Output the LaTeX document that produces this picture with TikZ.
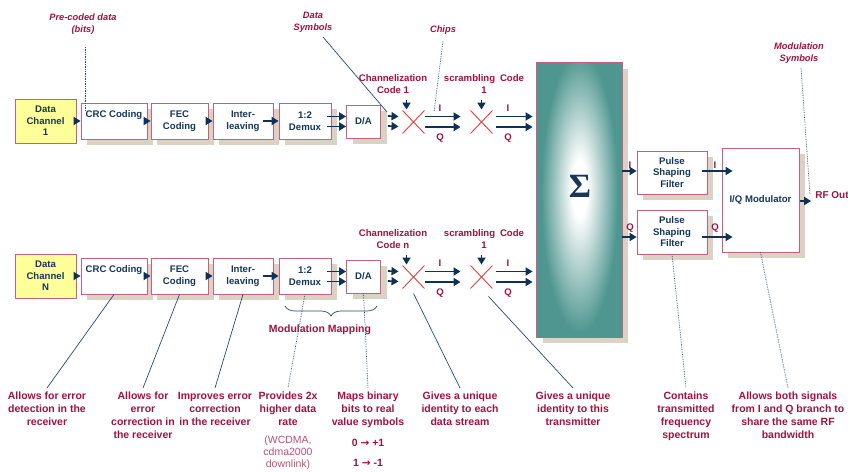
\documentclass[tikz,border=0pt]{standalone}
\usepackage{fontspec}
\setmainfont{Liberation Sans}
\newfontfamily\djv{DejaVu Sans}
\newfontfamily\sigfont{Liberation Serif}
\usetikzlibrary{arrows.meta,shapes.misc,shadows,decorations.pathreplacing}
\definecolor{redtxt}{RGB}{163,18,63}
\definecolor{navy}{RGB}{22,55,90}
\definecolor{arrc}{RGB}{12,50,85}
\definecolor{boxbd}{RGB}{200,95,125}
\definecolor{shadc}{RGB}{218,210,197}
\definecolor{yel}{RGB}{255,255,153}
\definecolor{xred}{RGB}{232,64,60}
\definecolor{teal1}{RGB}{78,150,143}
\definecolor{pinktxt}{RGB}{190,80,120}
\definecolor{annc}{RGB}{40,75,110}
\pgfdeclareradialshading{sigshade}{\pgfpoint{0bp}{4bp}}{color(0bp)=(white); color(9bp)=(white); color(45bp)=(teal1); color(100bp)=(teal1)}
\tikzset{
  shd/.style={drop shadow={shadow xshift=6pt,shadow yshift=-6pt,fill=shadc,opacity=1,draw=none}},
  boxbase/.style={draw=boxbd, line width=0.8pt, text=navy, font=\bfseries\fontsize{9.6}{11.5}\selectfont, align=center, inner sep=0pt},
  blk/.style={boxbase, fill=white, shd},
  dcbox/.style={boxbase, fill=yel},
  sumbox/.style={draw=boxbd, line width=0.8pt, fill=teal1, shd, minimum width=85pt, minimum height=274pt, inner sep=0pt},
  xmark/.style={cross out, draw=xred, line width=0.9pt, minimum width=21pt, minimum height=22pt, inner sep=0pt},
  arr/.style={draw=arrc, line width=1.7pt, -{Triangle[length=7pt,width=8pt]}},
  rlab/.style={text=redtxt, font=\bfseries\fontsize{9.6}{12}\selectfont, align=center, inner sep=0pt},
  ann/.style={text=redtxt, font=\bfseries\itshape\fontsize{9.3}{11.5}\selectfont, align=center, inner sep=0pt},
  btxt/.style={text=redtxt, font=\bfseries\fontsize{10.5}{13}\selectfont, align=center, inner sep=0pt, anchor=north},
  aline/.style={draw=annc, line width=0.7pt},
  adot/.style={aline, densely dotted}
}
\begin{document}
\begin{tikzpicture}[x=1pt,y=-1pt]
\fill[white] (0,0) rectangle (848,472);
\useasboundingbox (0,0) rectangle (848,472);

% summing block
\node[sumbox] (sum) at (579.5,200) {};
\begin{scope}
  \clip (sum.south west) rectangle (sum.north east);
  \pgftransformshift{\pgfpointanchor{sum}{center}}
  \pgftransformxscale{0.85}
  \pgftransformyscale{3.1}
  \pgflowlevelsynccm
  \pgftext{\pgfuseshading{sigshade}}
\end{scope}
\draw[boxbd, line width=0.8pt] (sum.south west) rectangle (sum.north east);
\node[text=navy, inner sep=0pt] (sig) at (580,186) {\sigfont\bfseries\fontsize{34}{34}\selectfont Σ};

\foreach \r/\dy/\lab/\cn in {1/0/1/1,N/155/N/n}{
  \node[dcbox, minimum width=61pt, minimum height=44pt] (dc\r) at (45.5,121+\dy) {Data\\Channel\\\lab};
  \node[blk, minimum width=66pt, minimum height=36pt] (crc\r) at (114,121+\dy) {CRC Coding\\[1pt]\phantom{g}};
  \node[blk, minimum width=57pt, minimum height=36pt] (fec\r) at (179.5,121+\dy) {FEC\\Coding};
  \node[blk, minimum width=60pt, minimum height=36pt] (int\r) at (243,121+\dy) {Inter-\\leaving};
  \node[blk, minimum width=52pt, minimum height=36pt] (dmx\r) at (305,121+\dy) {1:2\\Demux};
  \node[blk, minimum width=34pt, minimum height=33pt] (da\r) at (363.5,121.5+\dy) {D/A};
  \node[xmark] (xa\r) at (413.5,122+\dy) {};
  \node[xmark] (xb\r) at (481.5,122+\dy) {};
  \node[rlab] (chl\r) at (393,84+\dy) {Channelization\\Code \cn};
  \node[rlab] (scl\r) at (484,84+\dy) {scrambling\enspace Code\\1};
  \node[rlab] (ia\r) at (440,108+\dy) {I};
  \node[rlab] (qa\r) at (440,138+\dy) {Q};
  \node[rlab] (ib\r) at (508,108+\dy) {I};
  \node[rlab] (qb\r) at (508,138+\dy) {Q};
  \draw[arr] (dc\r.east) -- (crc\r.west);
  \draw[arr] (crc\r.east) -- (fec\r.west);
  \draw[arr] (fec\r.east) -- (int\r.west);
  \draw[arr] ([xshift=-10pt]int\r.east) -- (dmx\r.west);
  \draw[arr] ([xshift=-4pt,yshift=4.5pt]dmx\r.east) -- ([yshift=5pt]da\r.west);
  \draw[arr] ([xshift=-4pt,yshift=-5.5pt]dmx\r.east) -- ([yshift=-5pt]da\r.west);
  \draw[arr] ([xshift=7pt,yshift=5.5pt]da\r.east) -- ([xshift=-4pt,yshift=5.5pt]xa\r.west);
  \draw[arr] ([xshift=7pt,yshift=-4.5pt]da\r.east) -- ([xshift=-4pt,yshift=-4.5pt]xa\r.west);
  \draw[arr] ([xshift=1pt,yshift=5.5pt]xa\r.east) -- ([xshift=-10pt,yshift=5.5pt]xb\r.west);
  \draw[arr] ([xshift=1pt,yshift=-5pt]xa\r.east) -- ([xshift=-10pt,yshift=-5pt]xb\r.west);
  \path (sum.west |- xb\r.east) coordinate (sw\r);
  \draw[arr] ([xshift=4pt,yshift=5.5pt]xb\r.east) -- ([xshift=-4pt,yshift=5.5pt]sw\r);
  \draw[arr] ([xshift=4pt,yshift=-5pt]xb\r.east) -- ([xshift=-4pt,yshift=-5pt]sw\r);
  \draw[arr] ([xshift=-7pt,yshift=11pt]xa\r.north) -- ([xshift=-7pt,yshift=1pt]xa\r.north);
  \draw[arr] ([yshift=11pt]xb\r.north) -- ([yshift=1pt]xb\r.north);
}

% pulse shaping and modulator
\node[blk, minimum width=70pt, minimum height=43pt] (psf1) at (672,172.5) {Pulse\\Shaping\\Filter};
\node[blk, minimum width=70pt, minimum height=44pt] (psf2) at (672,232) {Pulse\\Shaping\\Filter};
\node[blk, minimum width=77pt, minimum height=104pt] (iq) at (760.5,200) {I/Q Modulator};
\node[rlab] (si) at (630,165) {I};
\node[rlab] (sq) at (630,228) {Q};
\node[rlab] (pi) at (715,165) {I};
\node[rlab] (pq) at (715,228) {Q};
\node[rlab, font=\bfseries\fontsize{10}{12}\selectfont] (rf) at (832,195) {RF Out};
\path (sum.east |- psf1.west) coordinate (se1);
\path (sum.east |- psf2.west) coordinate (se2);
\draw[arr] ([yshift=1.5pt]se1) -- ([yshift=1.5pt]psf1.west);
\draw[arr] ([yshift=-5pt]se2) -- ([yshift=-5pt]psf2.west);
\path (iq.west |- psf1.east) coordinate (iw1);
\path (iq.west |- psf2.east) coordinate (iw2);
\draw[arr] ([xshift=-5pt,yshift=1.5pt]psf1.east) -- ([xshift=11pt,yshift=1.5pt]iw1);
\draw[arr] ([xshift=-5pt,yshift=-5pt]psf2.east) -- ([xshift=11pt,yshift=-5pt]iw2);
\path (rf.west |- iq.east) coordinate (rfw);
\draw[arr] ([xshift=1pt,yshift=-1pt]iq.east) -- ([xshift=-4pt,yshift=-1pt]rfw);

% top annotations
\node[ann] (pre) at (83,24) {Pre-coded data\\(bits)};
\node[ann] (dsym) at (313,22.5) {Data\\Symbols};
\node[ann] (chips) at (443,30) {Chips};
\node[ann] (msym) at (799,53) {Modulation\\Symbols};
\coordinate (preA) at (85,47);
\coordinate (preB) at (85,110);
\coordinate (dsA) at (323,37);
\coordinate (dsB) at (387,112);
\coordinate (chA) at (443,41);
\coordinate (chB) at (434,112);
\coordinate (msA) at (801,68);
\coordinate (msB) at (810,195);
\draw[adot] (preA) -- (preB);
\draw[aline] (dsA) -- (dsB);
\draw[adot] (chA) -- (chB);
\draw[adot] (msA) -- (msB);

% brace and modulation mapping
\coordinate (brL) at (285,306);
\coordinate (brR) at (377,306);
\draw[aline, decorate, decoration={brace, amplitude=10pt, mirror}] (brL) -- (brR);
\node[rlab, font=\bfseries\fontsize{10.5}{13}\selectfont] (mm) at (320,330) {Modulation Mapping};

% bottom annotations
\node[btxt] (t1) at (47,392) {Allows for error\\detection in the\\receiver};
\node[btxt] (t2) at (143,392) {Allows for\\error\\correction in\\the receiver};
\node[btxt] (t3) at (215,392) {Improves error\\correction\\in the receiver};
\node[btxt] (t4) at (288,392) {Provides 2x\\higher data\\rate};
\node[text=pinktxt, font=\fontsize{10.5}{12}\selectfont, align=center, inner sep=0pt] (t4b) at (288,453) {(WCDMA,\\cdma2000\\downlink)};
\node[btxt] (t5) at (368,392) {Maps binary\\bits to real\\value symbols};
\node[rlab, font=\bfseries\fontsize{10.5}{13}\selectfont] (m0) at (368,443) {0 {\djv →} +1};
\node[rlab, font=\bfseries\fontsize{10.5}{13}\selectfont] (m1) at (368,463) {1 {\djv →} -1};
\node[btxt] (t6) at (460,392) {Gives a unique\\identity to each\\data stream};
\node[btxt] (t7) at (573,392) {Gives a unique\\identity to this\\transmitter};
\node[btxt] (t8) at (686,392) {Contains\\transmitted\\frequency\\spectrum};
\node[btxt] (t9) at (788,392) {Allows both signals\\from I and Q branch to\\share the same RF\\bandwidth};

\draw[aline] (crcN.south) -- ([yshift=4pt]t1.north);
\draw[aline] (fecN.south) -- ([yshift=4pt]t2.north);
\draw[aline] (intN.south) -- ([yshift=4pt]t3.north);
\draw[adot] (dmxN.south) -- ([yshift=4pt]t4.north);
\draw[adot] (daN.south) -- ([yshift=4pt]t5.north);
\draw[aline] ([yshift=-5pt]xaN.south) -- ([yshift=4pt]t6.north);
\draw[aline] ([xshift=7pt,yshift=-8pt]xbN.south) -- ([yshift=4pt]t7.north);
\draw[adot] (psf2.south) -- ([yshift=4pt]t8.north);
\draw[adot] (iq.south) -- ([yshift=4pt]t9.north);
\end{tikzpicture}
\end{document}
